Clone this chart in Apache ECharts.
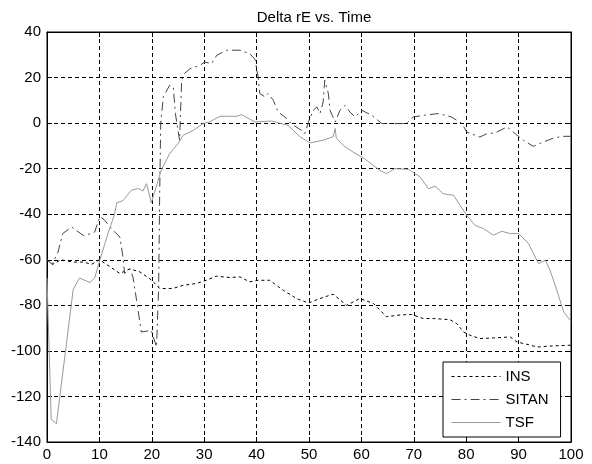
<!DOCTYPE html>
<html>
<head>
<meta charset="utf-8">
<script src="https://cdn.jsdelivr.net/npm/echarts@6/dist/echarts.min.js"></script>
<style>
  html, body { margin: 0; padding: 0; background: #fff; }
  #chart { width: 592px; height: 464px; }
</style>
</head>
<body>
<div id="chart"></div>
<script>
// x ticks / y ticks
var xTicks = [0, 10, 20, 30, 40, 50, 60, 70, 80, 90, 100]
var yTicks = [-140, -120, -100, -80, -60, -40, -20, 0, 20, 40]

// INS (dotted)
var insX = [0, 1.1, 2.6, 5, 7, 8.5, 10, 12, 13.9, 15.8, 17.7, 19.6, 20.6, 21.5, 24, 26, 28.5, 30.4, 32.3, 34.9, 36.8, 38.7, 40.3, 42.5, 45.1, 47.6, 49.9, 52.1, 54.6, 57.2, 59.7, 62.3, 64.8, 67.4, 69.6, 71.8, 73.7, 76.9, 78.2, 79.5, 80.7, 82.6, 85.2, 88.4, 89.7, 91.6, 93.5, 96.7, 100]
var insY = [-60, -62, -60, -61, -61, -62, -60, -63, -66, -64, -65.3, -68.3, -70.4, -72.6, -72.6, -71.2, -70.4, -69, -67.2, -67.8, -67.5, -69.7, -69, -69, -73.4, -77, -79, -77, -75.1, -80, -77, -79.2, -85, -84.2, -84, -85.8, -85.8, -86.3, -88, -91.7, -93.1, -94.6, -94.3, -93.9, -96.1, -97.1, -98.3, -97.8, -97.5]

// SITAN (dash-dot)
var sitanX = [0, 1, 2.1, 3, 4.7, 6.9, 8.5, 9.1, 10.1, 11, 12.3, 13.9, 14.5, 14.8, 15.8, 16.4, 17.1, 18, 19.9, 20.9, 21.3, 21.5, 21.7, 22.2, 23.4, 24.1, 24.5, 25, 25.3, 25.7, 26.2, 27.3, 29.2, 30.1, 31.4, 32.4, 34.3, 36.8, 38.7, 39.7, 40.3, 40.6, 41.6, 42.2, 43.2, 44.1, 45.4, 46.5, 48, 48.6, 49.2, 49.9, 50.8, 51.5, 52.1, 52.7, 53, 53.7, 54, 55, 55.9, 56.9, 57.8, 58.8, 60.1, 62, 63.9, 65.8, 68.6, 69.9, 71.8, 74.7, 77.2, 79.2, 80.1, 82.6, 83.9, 85.5, 87.8, 89.7, 90.9, 92.8, 94.7, 96.4, 98.3, 100]
var sitanY = [-60, -62, -56.6, -48.5, -45.6, -49.3, -48.5, -47.8, -41, -42.6, -46.3, -50, -58.8, -66, -64, -67.5, -77.8, -91.7, -91, -98.3, -73, -32, 0, 11.5, 16.6, 15.9, 4.2, -3.2, -7.5, 18.8, 21.7, 23.9, 25.4, 26.8, 26.1, 29.8, 32, 32, 30.5, 28, 20.2, 13, 11.5, 13, 10, 4.9, 2.7, 0, -2.4, -3.2, -4.6, 0.5, 5.6, 7.1, 4.2, 9.3, 18.8, 13, 5.6, 0.5, 5.6, 7.8, 4.9, 2.7, 5.6, 3.4, -0.2, -0.2, -0.2, 2.7, 3.4, 4.2, 2.7, -0.2, -3.9, -6.1, -4.7, -4.3, -1.7, -5.3, -7.5, -10.2, -8.3, -6.8, -5.8, -5.8]

// TSF (solid)
var tsfX = [0, 0.8, 1.8, 5, 6.2, 8.2, 9.1, 10.1, 11.7, 12.9, 13.3, 14.5, 16.1, 17.4, 18.3, 19, 19.9, 21.8, 23.4, 25, 26, 27.9, 29.8, 31, 33, 36.2, 37.1, 39.7, 42.9, 46, 48.3, 50.2, 52.7, 54.6, 55, 55.2, 56.5, 58.4, 60.5, 63.5, 64.8, 66.4, 69, 71.2, 72.8, 74.1, 75.6, 77.6, 78.8, 80.1, 81.7, 83.3, 85.2, 86.8, 88.4, 90, 91.9, 93.8, 95.1, 96, 97.3, 98.6, 100]
var tsfY = [-68, -130, -132, -73, -68, -70, -68, -60, -48, -40, -35, -34, -29.5, -28.7, -29.8, -26.6, -35, -20.7, -13.4, -9, -5.3, -3.2, -0.2, 0.5, 3, 3, 3.7, 0.5, 0.9, -1, -6, -8.7, -7.5, -6, -2.4, -6.5, -9.7, -12.7, -15.5, -20.7, -22.2, -20, -20.3, -23.6, -28.8, -27.7, -31, -31.7, -36, -40.5, -44.9, -46.3, -49.2, -47.5, -48.5, -48.5, -52.9, -61.7, -60.2, -64.6, -73.4, -82.9, -87]

function pairs(xs, ys) {
  return xs.map(function (x, i) { return [x, ys[i]] })
}

var font = 'Liberation Sans, Arial, sans-serif'
var gridDash = { color: '#000', width: 1, type: [4, 3] }

function axisBase(extra) {
  var a = {
    type: 'value',
    axisLine: { show: true, onZero: false, lineStyle: { color: '#000' } },
    axisTick: { inside: true, length: 5, lineStyle: { color: '#000' } }
  }
  return Object.assign(a, extra)
}

var chart = echarts.init(document.getElementById('chart'))
chart.setOption({
  backgroundColor: '#fff',
  animation: false,
  title: {
    text: 'Delta rE vs. Time',
    left: 309,
    top: 5,
    textAlign: 'center',
    textStyle: { fontFamily: font, fontSize: 15, fontWeight: 'normal', color: '#000' }
  },
  grid: {
    left: 47,
    right: 21,
    top: 32,
    bottom: 22,
    show: true,
    borderColor: '#000',
    borderWidth: 1
  },
  legend: {
    orient: 'vertical',
    left: 443,
    top: 362,
    width: 115,
    backgroundColor: '#fff',
    borderColor: '#000',
    borderWidth: 1,
    borderRadius: 0,
    padding: [7, 12, 7, 8],
    itemWidth: 49,
    itemHeight: 14,
    itemGap: 8,
    itemStyle: { opacity: 0 },
    lineStyle: { width: 1 },
    textStyle: { fontFamily: font, fontSize: 15, color: '#000' },
    data: ['INS', 'SITAN', 'TSF']
  },
  xAxis: [axisBase({
    min: 0,
    max: 100,
    interval: 10,
    axisLabel: {
      color: '#000', fontFamily: font, fontSize: 15, margin: 5,
      formatter: function (v) { return xTicks.indexOf(v) >= 0 ? String(v) : '' }
    },
    splitLine: { show: true, lineStyle: gridDash }
  }), axisBase({
    position: 'top',
    min: 0,
    max: 100,
    interval: 10,
    axisLabel: { show: false },
    splitLine: { show: false }
  })],
  yAxis: [axisBase({
    min: -140,
    max: 40,
    interval: 20,
    axisLabel: {
      color: '#000', fontFamily: font, fontSize: 15, margin: 6,
      formatter: function (v) { return yTicks.indexOf(v) >= 0 ? String(v) : '' }
    },
    splitLine: { show: true, lineStyle: gridDash }
  }), axisBase({
    position: 'right',
    min: -140,
    max: 40,
    interval: 20,
    axisLabel: { show: false },
    splitLine: { show: false }
  })],
  series: [{
    name: 'INS',
    type: 'line',
    symbol: 'none',
    color: '#000',
    lineStyle: { color: '#000', width: 1, type: [3, 3] },
    data: pairs(insX, insY)
  }, {
    name: 'SITAN',
    type: 'line',
    symbol: 'none',
    color: '#444',
    lineStyle: { color: '#444', width: 1, type: [9, 4, 2, 4] },
    data: pairs(sitanX, sitanY)
  }, {
    name: 'TSF',
    type: 'line',
    symbol: 'none',
    color: '#999',
    lineStyle: { color: '#999', width: 1, type: 'solid' },
    data: pairs(tsfX, tsfY)
  }]
})
</script>
</body>
</html>
